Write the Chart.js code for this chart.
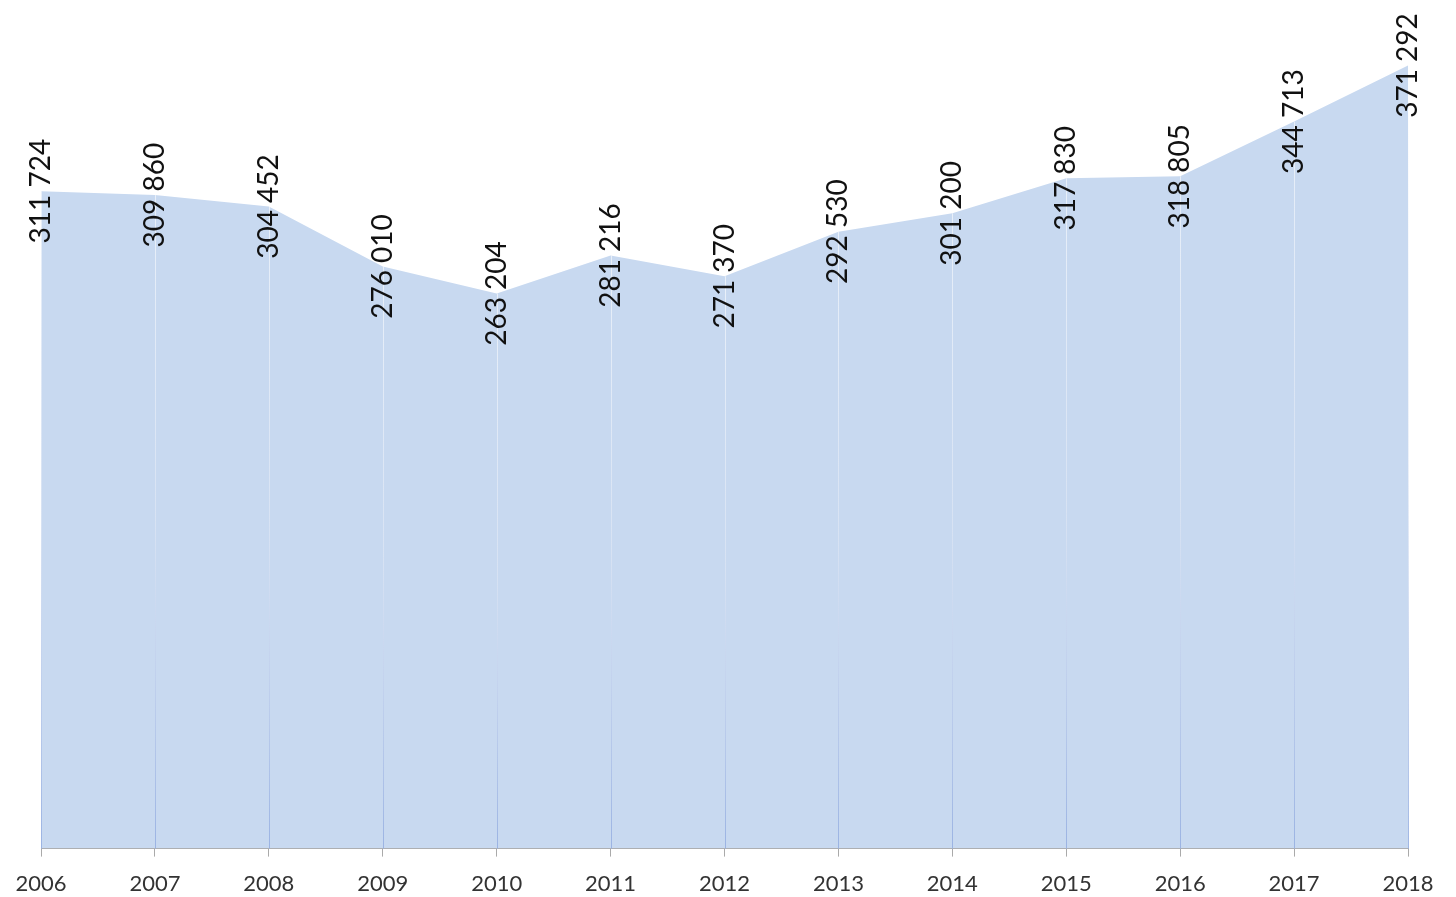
<!DOCTYPE html>
<html>
<head>
<meta charset="utf-8">
<script src="https://cdn.jsdelivr.net/npm/chart.js@4/dist/chart.umd.min.js"></script>
<style>
  body { margin: 0; background: #fff; }
</style>
</head>
<body>
<canvas id="myChart" width="1456" height="897"></canvas>
<script>
// Данные
const years = ['2006', '2007', '2008', '2009', '2010', '2011', '2012', '2013', '2014', '2015', '2016', '2017', '2018'];
const values = [311724, 309860, 304452, 276010, 263204, 281216, 271370, 292530, 301200, 317830, 318805, 344713, 371292];

const ctx = document.getElementById('myChart').getContext('2d');

function fmt(v) {
    return String(v).replace(/\B(?=(\d{3})+(?!\d))/g, ' ');
}

// Вертикальные линии от точки до оси
const dropLines = {
    id: 'dropLines',
    afterDatasetsDraw(chart) {
        const c = chart.ctx;
        const meta = chart.getDatasetMeta(0);
        const bottom = chart.chartArea.bottom;
        c.save();
        c.lineWidth = 1;
        meta.data.forEach(function(pt) {
            const g = c.createLinearGradient(0, pt.y, 0, bottom);
            g.addColorStop(0, 'rgba(255,255,255,0.6)');
            g.addColorStop(0.5, 'rgba(225,232,245,0.6)');
            g.addColorStop(1, 'rgba(150,175,225,0.9)');
            c.strokeStyle = g;
            c.beginPath();
            c.moveTo(Math.round(pt.x) + 0.5, pt.y);
            c.lineTo(Math.round(pt.x) + 0.5, bottom);
            c.stroke();
        });
        c.restore();
    }
};

// Подписи значений, повернутые на 90 градусов
const valueLabels = {
    id: 'valueLabels',
    afterDatasetsDraw(chart) {
        const c = chart.ctx;
        const meta = chart.getDatasetMeta(0);
        c.save();
        c.fillStyle = '#111';
        c.font = '28px Lato, "Open Sans", sans-serif';
        c.textAlign = 'center';
        c.textBaseline = 'middle';
        meta.data.forEach(function(pt, i) {
            c.save();
            c.translate(pt.x, pt.y);
            c.rotate(-Math.PI / 2);
            c.fillText(fmt(values[i]), 0, 0);
            c.restore();
        });
        c.restore();
    }
};

const chart = new Chart(ctx, {
    type: 'line',
    data: {
        labels: years,
        datasets: [{
            data: values,
            fill: 'origin',
            backgroundColor: 'rgb(200,217,240)',
            borderColor: 'rgba(200,217,240,0)',
            borderWidth: 0,
            pointRadius: 0,
            tension: 0
        }]
    },
    options: {
        responsive: false,
        animation: false,
        layout: { padding: { left: 41, right: 48, top: 5, bottom: -14 } },
        plugins: {
            legend: { display: false },
            tooltip: { enabled: false }
        },
        scales: {
            x: {
                offset: false,
                border: { color: '#aaa' },
                grid: { drawOnChartArea: false, drawTicks: true, tickLength: 8, color: '#aaa' },
                ticks: {
                    color: '#333',
                    padding: 14,
                    maxRotation: 0,
                    autoSkip: false,
                    font: { size: 22, family: 'Lato, "Open Sans", sans-serif' }
                }
            },
            y: {
                display: false,
                min: 0,
                max: 400000
            }
        }
    },
    plugins: [dropLines, valueLabels]
});
</script>
</body>
</html>
